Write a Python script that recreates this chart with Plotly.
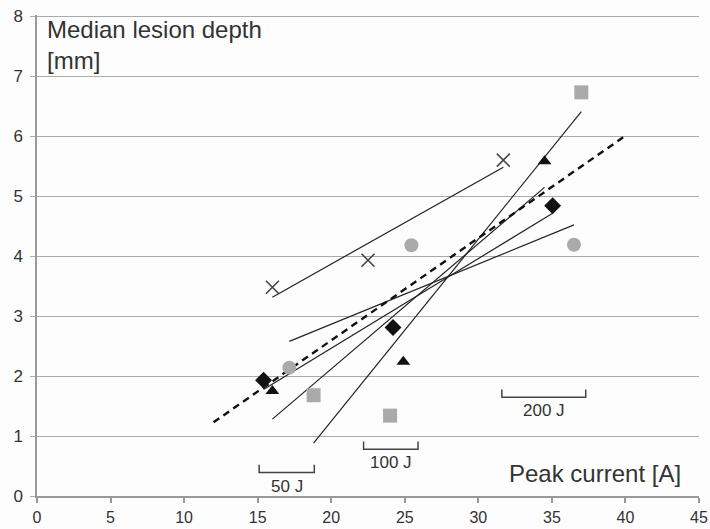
import numpy as np
import plotly.graph_objects as go

# ---- data ----
cross_x = [16.0, 22.5, 31.7]
cross_y = [3.48, 3.93, 5.60]
diamond_x = [15.4, 24.2, 35.05]
diamond_y = [1.93, 2.81, 4.84]
triangle_x = [16.0, 24.9, 34.5]
triangle_y = [1.75, 2.24, 5.58]
square_x = [18.8, 24.0, 37.0]
square_y = [1.68, 1.34, 6.73]
circle_x = [17.15, 25.45, 36.5]
circle_y = [2.14, 4.18, 4.19]

overall_fit_range = [12, 40]

bracket_labels = ["50 J", "100 J", "200 J"]
bracket_x0 = [15.1, 22.2, 31.6]
bracket_x1 = [18.85, 25.9, 37.3]
bracket_y = [0.39, 0.78, 1.645]
bracket_tick = 0.13
bracket_label_y = [0.16, 0.56, 1.42]

x_ticks = [0, 5, 10, 15, 20, 25, 30, 35, 40, 45]
y_ticks = [0, 1, 2, 3, 4, 5, 6, 7, 8]

series = [
    (cross_x, cross_y, dict(symbol="x-thin-open", size=13, color="#444",
                            line=dict(width=1.6, color="#444"))),
    (diamond_x, diamond_y, dict(symbol="diamond", size=13, color="#111")),
    (triangle_x, triangle_y, dict(symbol="triangle-up", size=12, color="#111")),
    (square_x, square_y, dict(symbol="square", size=14, color="#aaaaaa")),
    (circle_x, circle_y, dict(symbol="circle", size=14, color="#aaaaaa")),
]

fig = go.Figure()

FONT = "Liberation Sans, Arial, sans-serif"

# per-series linear trendlines
for xs, ys, _ in series:
    k, b = np.polyfit(xs, ys, 1)
    xl = np.array([min(xs), max(xs)])
    fig.add_trace(go.Scatter(x=xl, y=k * xl + b, mode="lines",
                             line=dict(color="#222", width=1.2),
                             showlegend=False, hoverinfo="skip"))

# overall trendline (dashed)
all_x = np.concatenate([s[0] for s in series])
all_y = np.concatenate([s[1] for s in series])
k, b = np.polyfit(all_x, all_y, 1)
xl = np.array(overall_fit_range, dtype=float)
fig.add_trace(go.Scatter(x=xl, y=k * xl + b, mode="lines",
                         line=dict(color="#111", width=2.4, dash="7px,5px"),
                         showlegend=False, hoverinfo="skip"))

# markers
for xs, ys, mk in series:
    fig.add_trace(go.Scatter(x=xs, y=ys, mode="markers", marker=mk,
                             showlegend=False))

# energy brackets
for lab, x0, x1, yb, ly in zip(bracket_labels, bracket_x0, bracket_x1,
                               bracket_y, bracket_label_y):
    fig.add_trace(go.Scatter(x=[x0, x0, x1, x1],
                             y=[yb + bracket_tick, yb, yb, yb + bracket_tick],
                             mode="lines", line=dict(color="#444", width=1.5),
                             showlegend=False, hoverinfo="skip"))
    fig.add_annotation(x=(x0 + x1) / 2, y=ly, text=lab, showarrow=False,
                       font=dict(size=17, color="#333", family=FONT))

fig.add_annotation(xref="paper", yref="paper", x=0.012, y=1.003,
                   xanchor="left", yanchor="top", align="left",
                   text="Median lesion depth<br>[mm]", showarrow=False,
                   font=dict(size=24, color="#333", family=FONT))
fig.add_annotation(x=43.9, y=0.38, xanchor="right", yanchor="middle",
                   text="Peak current [A]", showarrow=False,
                   font=dict(size=24, color="#333", family=FONT))

fig.update_layout(
    width=710, height=529,
    margin=dict(l=37, r=11, t=15, b=33, autoexpand=False),
    paper_bgcolor="#fdfdfd", plot_bgcolor="#fdfdfd",
    font=dict(family=FONT, size=16, color="#333"),
    showlegend=False,
)
fig.update_xaxes(range=[0, 45], tickvals=x_ticks, showgrid=False,
                 showline=True, linecolor="#999", linewidth=1.5,
                 ticks="outside", ticklen=5, tickcolor="#999", tickwidth=1.5,
                 zeroline=False, tickfont=dict(size=16, color="#333"),
                 automargin=False, ticklabelstandoff=1)
fig.update_yaxes(range=[0, 8.02], tickvals=y_ticks, showgrid=True,
                 gridcolor="#aaaaaa", gridwidth=1.4,
                 showline=True, linecolor="#999", linewidth=1.5,
                 ticks="outside", ticklen=5, tickcolor="#aaa", tickwidth=1.4,
                 zeroline=False, tickfont=dict(size=17, color="#333"),
                 automargin=False, ticklabelstandoff=4)

fig.write_html(
    "out.html",
    config={"displayModeBar": False},
    post_script="document.body.style.margin='0px';"
                "document.body.style.overflow='hidden';",
)
